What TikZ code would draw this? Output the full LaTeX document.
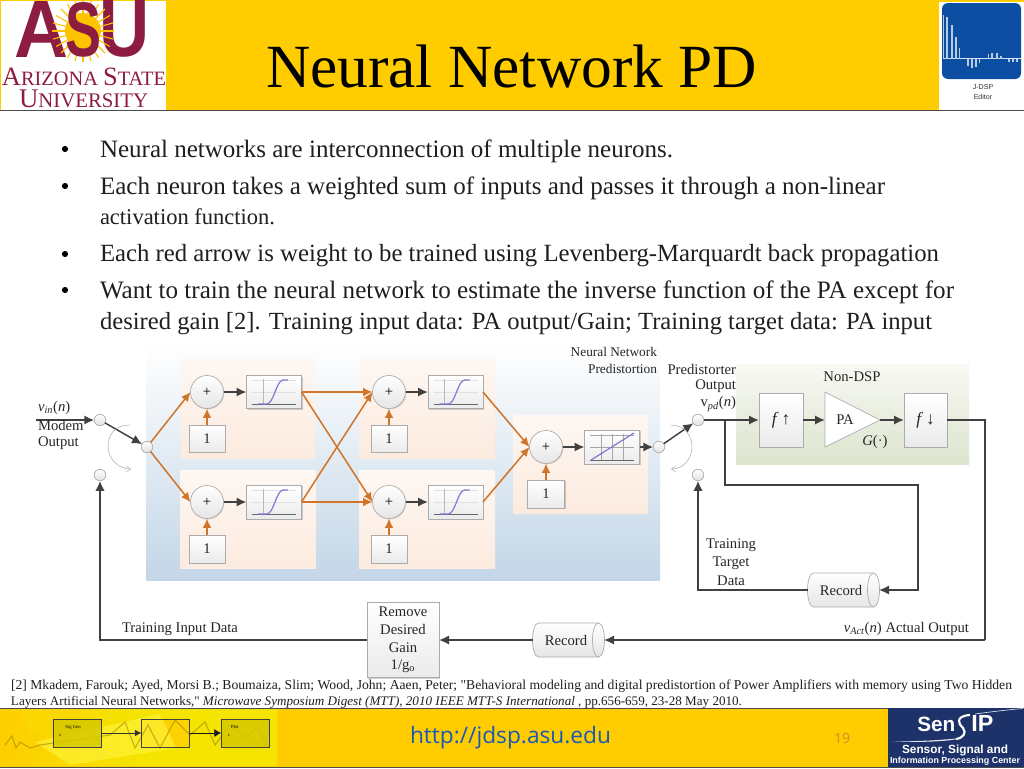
\documentclass[tikz,border=0pt]{standalone}
\usepackage{fontspec}
\usepackage{graphicx}
\setmainfont{Liberation Serif}
\newfontfamily\sansf{Liberation Sans}
\newfontfamily\opensans{Open Sans}
\newfontfamily\plainq{Liberation Serif}[Ligatures=TeXOff]
\usetikzlibrary{arrows.meta,shadows,calc}
\definecolor{gold}{HTML}{FFCC00}
\definecolor{asured}{HTML}{8C1D40}
\definecolor{wire}{HTML}{404040}
\definecolor{orangew}{HTML}{D0762C}
\definecolor{edgeg}{HTML}{ABABAB}
\definecolor{navy}{HTML}{1C3268}
\definecolor{jblue}{HTML}{0B4EA2}
\definecolor{peachc}{HTML}{FCEBDF}
\definecolor{panelb}{HTML}{C3D6E7}
\definecolor{greent}{HTML}{F8F9F3}
\definecolor{greenb}{HTML}{DCE4CE}
\definecolor{curvec}{RGB}{125,120,210}
\definecolor{footy}{HTML}{F4E400}
\newcommand{\fitw}[2]{\resizebox{\dimexpr #1pt*3/4\relax}{!}{#2}}
\newcommand{\fitwh}[3]{\resizebox{\dimexpr #1pt*3/4\relax}{\dimexpr #2pt*3/4\relax}{#3}}
\tikzset{
  px/.style 2 args={minimum width=#1*0.75pt,minimum height=#2*0.75pt,inner sep=0pt,outer sep=0pt},
  lbl/.style={inner sep=0pt,outer sep=0pt,font=\fontsize{11pt}{12pt}\selectfont,text=black!85},
  bodyline/.style={anchor=base west,inner sep=0pt,outer sep=0pt,text=black!88},
  peach/.style={top color=white!60!peachc,bottom color=peachc},
  graybox/.style={draw=edgeg,line width=.5pt,top color=white,bottom color=black!8,
     drop shadow={shadow xshift=.8pt,shadow yshift=-.8pt,opacity=.18,fill=black}},
  sumnode/.style={circle,draw=edgeg,line width=.5pt,minimum size=33*0.75pt,inner sep=0pt,outer sep=0pt,
     top color=white,bottom color=black!10,font=\fontsize{11pt}{12pt}\selectfont,
     drop shadow={shadow xshift=.6pt,shadow yshift=-.6pt,opacity=.15,fill=black}},
  term/.style={circle,draw=edgeg,line width=.5pt,minimum size=11.5*0.75pt,inner sep=0pt,outer sep=0pt,
     top color=white,bottom color=black!12},
  wirea/.style={draw=wire,line width=1.4pt,-{Latex[length=7.5pt,width=7pt]}},
  wirep/.style={draw=wire,line width=1.4pt},
  orng/.style={draw=orangew,line width=1.15pt,-{Latex[length=7pt,width=6.5pt]}},
  turn/.style={draw=black!35,line width=.35pt,-{Straight Barb[length=3pt,width=4pt]}},
}
\newcommand{\sigplot}[2]{%
  \begin{scope}[shift={(#1,#2)}]
    \draw[black!12,line width=.3pt] (-22,-12) -- (22,-12) (-22,0) -- (22,0);
    \draw[black!28,line width=.35pt] (-11,-13) -- (-11,12);
    \draw[black!60,line width=.5pt] (-22,12) -- (22,12);
    \draw[curvec,line width=.9pt] (-16,12) -- (-7,12) .. controls (0,11) and (2,-11) .. (9,-12) -- (14,-12);
  \end{scope}}
\newcommand{\linplot}[2]{%
  \begin{scope}[shift={(#1,#2)}]
    \draw[black!35,line width=.4pt] (-22,-12) -- (22,-12) (-22,0) -- (22,0) (-11,-13) -- (-11,13) (0,-13) -- (0,13) (11,-13) -- (11,13);
    \draw[black!60,line width=.5pt] (-22,13) -- (22,13);
    \draw[curvec,line width=.9pt] (-21,13) -- (22,-14);
  \end{scope}}
\newcommand{\recshape}[2]{%
  \begin{scope}[shift={(#1,#2)}]
    \path[draw=edgeg,line width=.5pt,top color=white,bottom color=black!10]
      (-30,-17) -- (30,-17) .. controls (34,-17) and (36,-8) .. (36,0) .. controls (36,8) and (34,17) .. (30,17)
      -- (-30,17) .. controls (-34,17) and (-36,8) .. (-36,0) .. controls (-36,-8) and (-34,-17) .. (-30,-17) -- cycle;
    \draw[edgeg,line width=.5pt] (30,-17) .. controls (26,-17) and (24,-8) .. (24,0) .. controls (24,8) and (26,17) .. (30,17);
  \end{scope}}
\begin{document}
\begin{tikzpicture}[x=0.75pt,y=-0.75pt]
\useasboundingbox (0,0) rectangle (1024,768);
\fill[white] (0,0) rectangle (1024,768);
% ---------- header ----------
\fill[gold] (0,0) rectangle (1024,110);
\draw[black!70,line width=.8pt] (0,110.5) -- (1024,110.5);
\fill[white] (1,1) rectangle (166,110);
\fill[white] (939,2) rectangle (1024,110);
\node[anchor=south west,inner sep=0,outer sep=0,text=asured] (logoA) at (15,57) {\fitwh{54}{56}{\sansf\bfseries A}};
\node[anchor=south east,inner sep=0,outer sep=0,text=asured] (logoU) at (150,57) {\fitwh{50}{56}{\sansf\bfseries U}};
\foreach \a in {0,15,...,345}{\draw[gold!85!orange,line width=.8pt] (83,31) ++(\a:18) -- ++(\a:13);}
\fill[gold!90!orange] (83,31) circle (18);
\node[anchor=center,inner sep=0,outer sep=0,text=asured] (logoS) at (83,29.5) {\fitwh{36}{54}{\sansf\bfseries S}};
\node[anchor=base west,inner sep=0,outer sep=0,text=asured] (logoAZ) at (2,85) {\fitw{164}{\fontsize{24pt}{24pt}\selectfont A\fontsize{18.5pt}{20pt}\selectfont RIZONA \fontsize{24pt}{24pt}\selectfont S\fontsize{18.5pt}{20pt}\selectfont TATE}};
\node[anchor=base west,inner sep=0,outer sep=0,text=asured] (logoUN) at (19,107) {\fitw{129}{\fontsize{24pt}{24pt}\selectfont U\fontsize{18.5pt}{20pt}\selectfont NIVERSITY}};
\node[anchor=base west,inner sep=0,outer sep=0,text=black] (title) at (266,87) {\fitw{491}{\fontsize{44pt}{44pt}\selectfont Neural Network PD}};
% J-DSP icon
\fill[jblue,rounded corners=4.5pt] (942,3) rectangle (1021,79);
\draw[white!85!jblue,line width=.35pt] (943,58.5) -- (1021,58.5);
\foreach \x/\y in {943.5/15,947/17,952/25,956/37,959.5/48,968/66,972/68,976/67,979.5/63,988.5/54,992/53,997/53,1001/56,1009/62,1013/62,1017/62}
  {\draw[white!70!jblue,line width=1pt] (\x,58.5) -- (\x,\y);}
\node[inner sep=0,font=\sansf\fontsize{5.3pt}{6pt}\selectfont,text=black!80] (jd1) at (983,87) {J-DSP};
\node[inner sep=0,font=\sansf\fontsize{5.3pt}{6pt}\selectfont,text=black!80] (jd2) at (983,97) {Editor};
% ---------- bullets ----------
\foreach \y in {149,186,254,290}{\fill[black] (65,\y) circle (3.1);}
\node[bodyline] (l1) at (100,157) {\fitw{573}{\fontsize{18pt}{20pt}\selectfont Neural networks are interconnection of multiple neurons.}};
\node[bodyline] (l2) at (100,194) {\fitw{785}{\fontsize{18pt}{20pt}\selectfont Each neuron takes a weighted sum of inputs and passes it through a non-linear}};
\node[bodyline] (l3) at (100,224) {\fitw{175}{\fontsize{18pt}{20pt}\selectfont activation function.}};
\node[bodyline] (l4) at (100,261) {\fitw{839}{\fontsize{18pt}{20pt}\selectfont Each red arrow is weight to be trained using Levenberg-Marquardt back propagation}};
\node[bodyline] (l5) at (100,298) {\fitw{854}{\fontsize{18pt}{20pt}\selectfont Want to train the neural network to estimate the inverse function of the PA except for}};
\node[bodyline] (l6) at (100,329) {\fitw{832}{\fontsize{18pt}{20pt}\selectfont desired gain [2]. Training input data: PA output/Gain; Training target data: PA input}};
% ---------- diagram panels ----------
\path[top color=white,bottom color=panelb] (146,343) rectangle (660,580);
\path[peach] (181,359) rectangle (315,458);
\path[peach] (180,470) rectangle (316,568);
\path[peach] (359,359) rectangle (495,458);
\path[peach] (359,470) rectangle (495,568);
\path[peach] (513,415) rectangle (648,513);
\path[top color=greent,bottom color=greenb] (736,364) rectangle (969,464);
% neurons
\node[sumnode] (s1) at (207,392) {+};
\node[sumnode] (s2) at (207,502) {+};
\node[sumnode] (s3) at (389,392) {+};
\node[sumnode] (s4) at (389,502) {+};
\node[sumnode] (s5) at (546,447) {+};
\node[graybox,px={55}{33}] (f1) at (274,392) {};
\node[graybox,px={55}{34}] (f2) at (274,502) {};
\node[graybox,px={55}{33}] (f3) at (455.5,392) {};
\node[graybox,px={55}{34}] (f4) at (455.5,502) {};
\node[graybox,px={55}{34}] (f5) at (612,447) {};
\sigplot{274}{392}\sigplot{274}{502}\sigplot{455.5}{392}\sigplot{455.5}{502}\linplot{612}{447}
\node[graybox,lbl,px={36}{27}] (b1) at (207,438.5) {1};
\node[graybox,lbl,px={36}{28}] (b2) at (207,549) {1};
\node[graybox,lbl,px={36}{27}] (b3) at (389,438.5) {1};
\node[graybox,lbl,px={36}{28}] (b4) at (389,549) {1};
\node[graybox,lbl,px={37}{28}] (b5) at (546,494) {1};
% terminals
\node[term] (t1) at (100,420) {};
\node[term] (t2) at (147,447) {};
\node[term] (t3) at (100,475) {};
\node[term] (t4) at (659,447) {};
\node[term] (t5) at (698,420) {};
\node[term] (t6) at (698,475) {};
% right blocks
\node[graybox,lbl,px={44}{54},font=\fontsize{13pt}{14pt}\selectfont] (up) at (781,420) {\textit{f}\,↑};
\node[graybox,lbl,px={43}{54},font=\fontsize{13pt}{14pt}\selectfont] (dn) at (925.5,420) {\textit{f}\,↓};
\coordinate (paw) at (825,420);
\coordinate (pae) at (880,420);
\filldraw[draw=edgeg,line width=.5pt,fill=white] (825,392) -- (pae) -- (825,447) -- cycle;
\node[lbl] (patxt) at (845,420) {PA};
\node[lbl] (gtxt) at (875,442) {\textit{G}(·)};
\node[graybox,lbl,align=center,px={72}{75},font=\fontsize{11pt}{13.2pt}\selectfont] (rm) at (403,640) {Remove\\Desired\\Gain\\1/g\textsubscript{o}};
\recshape{843.5}{590}
\recshape{568.5}{640}
\node[lbl,px={71}{34}] (r1) at (843.5,590) {\hspace*{-3.75pt}Record};
\node[lbl,px={71}{34}] (r2) at (568.5,640) {\hspace*{-3.75pt}Record};
% coordinates
\coordinate (in) at (36,420);
\coordinate (tap) at (725,420);
\coordinate (tapd) at (725,485);
\coordinate (tapr) at (918,485);
\coordinate (tapb) at (918,590);
\coordinate (outr) at (985,420);
\coordinate (outb) at (985,640);
\coordinate (fbl) at (100,640);
\coordinate (trl) at (698,590);
% wires
\draw[wirea] (in) -- (t1);
\draw[wirea,line width=1.1pt] (t1) -- (t2);
\foreach \a/\b in {s1/f1,s2/f2,s3/f3,s4/f4,s5/f5,f5/t4}{\draw[wirea] (\a) -- (\b);}
\draw[wirea,line width=1.1pt] (t4) -- (t5);
\draw[wirea] (t5) -- (up.west);
\draw[wirea] (up.east) -- (paw);
\draw[wirea] (pae) -- (dn.west);
\draw[wirep] (dn.east) -- (outr) -- (outb);
\draw[wirea] (outb) -- (r2.east);
\draw[wirea] (r2.west) -- (rm.east);
\draw[wirea] (rm.west) -- (fbl) -- (t3);
\draw[wirea] (tap) -- (tapd) -- (tapr) -- (tapb) -- (r1.east);
\draw[wirea] (r1.west) -- (trl) -- (t6);
% orange weights
\draw[orng] (t2) -- (s1.west);
\draw[orng] (t2) -- (s2.west);
\draw[orng] (f1.east) -- (s3.west);
\draw[orng] (f1.east) -- (s4.west);
\draw[orng] (f2.east) -- (s3.west);
\draw[orng] (f2.east) -- (s4.west);
\draw[orng] (f3.east) -- (s5.west);
\draw[orng] (f4.east) -- (s5.west);
\foreach \a/\b in {b1/s1,b2/s2,b3/s3,b4/s4,b5/s5}{\draw[orng] (\a) -- (\b);}
% switch turn arrows
\coordinate (ca1) at (130,425); \coordinate (ca2) at (131,469);
\coordinate (cb1) at (671,425); \coordinate (cb2) at (671,469);
\draw[turn] (ca1) .. controls (112,425) and (108,438) .. (108,447) .. controls (108,458) and (118,469) .. (ca2);
\draw[turn] (cb1) .. controls (685,425) and (692,436) .. (692,447) .. controls (692,458) and (684,469) .. (cb2);
% labels
\node[lbl,anchor=west] (tvin) at (38,408) {\textit{v\textsubscript{in}}(\textit{n})};
\node[lbl,anchor=west] (tm) at (38,425.5) {Modem};
\node[lbl,anchor=west] (to) at (38,443) {Output};
\node[lbl,anchor=east,font=\fontsize{10pt}{12pt}\selectfont] (tn1) at (657,352) {Neural Network};
\node[lbl,anchor=east,font=\fontsize{10pt}{12pt}\selectfont] (tn2) at (657,369) {Predistortion};
\node[lbl,anchor=east] (tp1) at (736,369) {Predistorter};
\node[lbl,anchor=east] (tp2) at (736,386.5) {Output};
\node[lbl,anchor=east] (tp3) at (736,404) {v\textsubscript{\textit{pd}}(\textit{n})};
\node[lbl] (tnd) at (852,377) {Non-DSP};
\node[lbl] (tt1) at (731,545) {Training};
\node[lbl] (tt2) at (731,563) {Target};
\node[lbl] (tt3) at (731,581) {Data};
\node[lbl,anchor=west] (tin) at (122,629) {Training Input Data};
\node[lbl,anchor=east] (tact) at (969,629) {\textit{v\textsubscript{Act}}(\textit{n}) Actual Output};
% reference
\node[bodyline] (ref1) at (11,689) {\fitw{1001}{\fontsize{10pt}{12pt}\selectfont [2] Mkadem, Farouk; Ayed, Morsi B.; Boumaiza, Slim; Wood, John; Aaen, Peter; {\plainq"}Behavioral modeling and digital predistortion of Power Amplifiers with memory using Two Hidden}};
\node[bodyline] (ref2) at (11,705) {\fitw{731}{\fontsize{10pt}{12pt}\selectfont Layers Artificial Neural Networks,{\plainq"} \textit{Microwave Symposium Digest (MTT), 2010 IEEE MTT-S International} , pp.656-659, 23-28 May 2010.}};
% ---------- footer ----------
\fill[gold] (0,708) rectangle (1024,767);
\draw[black!70,line width=.6pt] (0,708) -- (1024,708);
\draw[black!70,line width=.6pt] (0,767) -- (1024,767);
\shade[left color=gold!90!footy,right color=footy,middle color=footy] (0,709) rectangle (277,765);
\fill[gold!60!footy] (20,709) -- (85,709) -- (30,735) -- cycle;
\fill[gold!70!footy] (140,719) rectangle (190,747);
\fill[yellow!75!white,opacity=.6] (35,742) -- (160,714) -- (176,748) -- (70,765) -- cycle;
\draw[black!45!gold,opacity=.45,line width=.9pt] (5,745) -- (12,736) -- (16,748) -- (20,742) -- (30,748) -- (40,745) -- (60,742) -- (110,735) -- (125,722) -- (135,748) -- (148,725) -- (160,748) -- (175,720) -- (190,735) -- (205,722) -- (215,745) -- (230,725) -- (245,738) -- (258,728) -- (268,746);
\node[draw=black!75,fill=yellow!60!olive!90!gold,fill opacity=.85,px={48}{28}] (sg) at (77,733) {};
\node[draw=black!75,px={48}{28}] (mid) at (165.5,733) {};
\node[draw=black!75,fill=yellow!60!olive!90!gold,fill opacity=.85,px={48}{28}] (pl) at (245,733) {};
\node[inner sep=0,font=\fontsize{3.5pt}{4pt}\selectfont] (sgt) at (73,727) {Sig Gen};
\node[inner sep=0,font=\fontsize{3.5pt}{4pt}\selectfont] (sgs) at (60,735) {s};
\node[inner sep=0,font=\fontsize{3.5pt}{4pt}\selectfont] (plt) at (235,727) {Plot};
\node[inner sep=0,font=\fontsize{3.5pt}{4pt}\selectfont] (pls) at (229,735) {c};
\draw[black!80,line width=.5pt,-{Latex[length=5pt,width=5pt]}] (sg.east) -- (mid.west);
\draw[black!90,line width=.5pt,-{Latex[length=5pt,width=6pt]}] (mid.east) -- (pl.west);
\node[anchor=center,inner sep=0,text={rgb,255:red,25;green,90;blue,180}] (url) at (510.5,738) {\fitw{201}{\opensans\fontsize{16pt}{18pt}\selectfont http://jdsp.asu.edu}};
\node[inner sep=0,font=\opensans\fontsize{10.5pt}{12pt}\selectfont,text={rgb,255:red,200;green,145;blue,45}] (pg) at (842,738) {19};
% SenSIP logo
\fill[navy] (888,708) rectangle (1024,767);
\node[inner sep=0,anchor=base west,text=white] (sen) at (917,731) {\fitw{38}{\sansf\bfseries\fontsize{18pt}{20pt}\selectfont Sen}};
\node[inner sep=0,anchor=base west,text=white] (ip) at (971,731) {\fitw{22}{\sansf\bfseries\fontsize{18pt}{20pt}\selectfont IP}};
\draw[white,line width=1.6pt] (970,715) .. controls (955,716) and (958,724) .. (963,728) .. controls (967,733) and (963,738) .. (956,739);
\path[fill=white!85!navy] (892,741) .. controls (930,742) and (955,738) .. (960,738.5) .. controls (950,741) and (925,743) .. (892,741) -- cycle;
\draw[white!85!navy,line width=.5pt] (975,714) .. controls (990,712) and (1005,710) .. (1023,708.5);
\node[inner sep=0,text=white] (sn1) at (955,750) {\fitw{106}{\sansf\bfseries\fontsize{8pt}{9pt}\selectfont Sensor, Signal and}};
\node[inner sep=0,text=white] (sn2) at (955,761) {\fitw{130}{\sansf\bfseries\fontsize{8pt}{9pt}\selectfont Information Processing Center}};
\end{tikzpicture}
\end{document}
